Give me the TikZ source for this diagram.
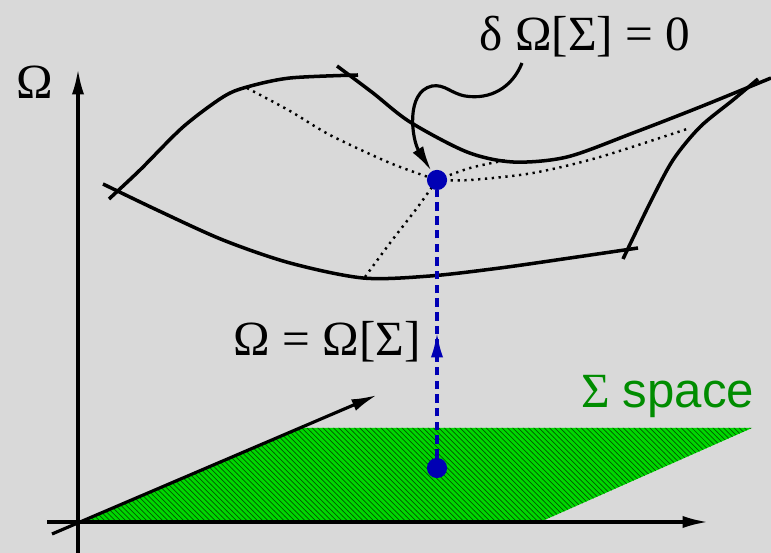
\documentclass[tikz,border=0pt]{standalone}
\usepackage{fontspec}
\setmainfont{Liberation Serif}
\setsansfont{Liberation Sans}
\usepackage{xcolor}
\usepackage{tikz}
\usetikzlibrary{arrows.meta, positioning, calc, patterns, decorations.markings}

\definecolor{bggray}{RGB}{217,217,217}
\definecolor{dotblue}{RGB}{0,0,180}
\definecolor{planegreen}{RGB}{0,215,0}
\definecolor{hatchgreen}{RGB}{0,90,0}
\definecolor{labelgreen}{RGB}{0,140,0}

\begin{document}
\begin{tikzpicture}[
	x=0.02cm, y=-0.02cm,
	>={Latex[length=14.5pt, width=7pt]},
	axis/.style={line width=1.8pt, ->},
	sheet/.style={line width=2pt},
	gridline/.style={line width=1.4pt, dash pattern=on 1.3pt off 2.6pt},
	point/.style={circle, fill=dotblue, inner sep=0pt, minimum size=11.5pt},
	lbl/.style={font=\fontsize{28}{33}\selectfont, inner sep=0pt},
	lift/.style={dotblue, line width=1.9pt, dash pattern=on 4.8pt off 3pt,
		postaction={decorate},
		decoration={markings, mark=at position 0.47 with {\arrow{>}}}},
	pointer/.style={line width=1.8pt, ->}
	]
	
	% Background
	\fill[bggray] (0,0) rectangle (771,553);
	\useasboundingbox (0,0) rectangle (771,553);
	
	% Sigma plane
	\coordinate (O) at (78,522);
	\fill[planegreen] (O) -- (540,522) -- (752,428) -- (300,428) -- cycle;
	\fill[pattern=north west lines, pattern color=hatchgreen] (O) -- (540,522) -- (752,428) -- (300,428) -- cycle;
	
	% Axes
	\draw[axis] (78,553) -- (78,69);
	\draw[axis] (47,522) -- (708,522);
	\draw[axis] (52,534) -- (377,395);
	
	% Surface Omega[Sigma]
	\coordinate (top) at (437,180);
	\draw[sheet] plot[smooth] coordinates {(109,199) (140,170) (183,127) (223,97) (247,87) (290,78) (358,75)};
	\draw[sheet] plot[smooth] coordinates {(337,66) (373,93) (410,122) (467,152) (513,162) (567,157) (633,133) (700,107) (771,78)};
	\draw[sheet] plot[smooth] coordinates {(103,184) (157,210) (223,240) (290,263) (363,278) (430,276) (500,268) (570,258) (638,248)};
	\draw[sheet] plot[smooth] coordinates {(623,259) (650,203) (673,160) (700,127) (733,100) (758,79)};
	
	% Grid lines through the extremum
	\draw[gridline] plot[smooth] coordinates {(247,88) (290,111) (330,135) (390,163) (top)};
	\draw[gridline] plot[smooth] coordinates {(365,277) (390,243) (417,208) (top)};
	\draw[gridline] plot[smooth] coordinates {(top) (470,168) (507,160)};
	\draw[gridline] plot[smooth] coordinates {(top) (470,180) (533,173) (600,157) (690,128)};
	
	% Points
	\node[point] (omega) at (top) {};
	\node[point] (sigma) at (437,468) {};
	
	% Labels
	\node[lbl] (axislbl) at (35,82) {Ω};
	\node[lbl] (stat) at (585,37) {δ Ω[Σ] = 0};
	\node[lbl] (map) at (327,342) {Ω = Ω[Σ]};
	\node[lbl, text=labelgreen] (space) at (668,397) {Σ \textsf{space}};
	
	% Mapping and stationarity
	\draw[lift] (sigma) -- (omega);
	\coordinate (tail) at (522,63);
	\draw[pointer] (tail) .. controls (512,88) and (490,100) .. (465,96)
		.. controls (450,93) and (445,84) .. (432,86)
		.. controls (405,92) and (412,140) .. (omega);
	
\end{tikzpicture}
\end{document}
